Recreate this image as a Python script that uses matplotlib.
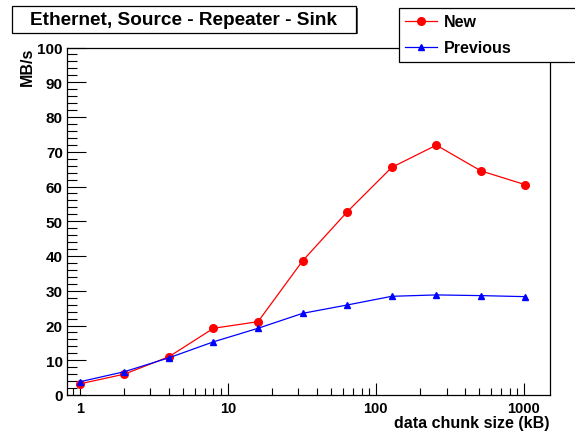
import matplotlib
matplotlib.use("Agg")
import matplotlib.pyplot as plt
from matplotlib.patches import Rectangle
from matplotlib.ticker import FixedLocator, NullFormatter, MultipleLocator, LogLocator

plt.rcParams['font.family'] = ['Liberation Sans', 'DejaVu Sans']
plt.rcParams['font.weight'] = 'bold'

# chunk sizes (kB) and throughput (MB/s)
chunk_kb = [1, 2, 4, 8, 16, 32, 64, 128, 256, 512, 1024]
new_mbs = [3.2, 6.0, 11.0, 19.2, 21.1, 38.6, 52.7, 65.5, 71.9, 64.5, 60.5]
prev_mbs = [3.8, 6.7, 10.7, 15.3, 19.2, 23.5, 25.9, 28.4, 28.8, 28.6, 28.3]

x_ticks = [1, 10, 100, 1000]
x_ticklabels = ['1', '10', '100', '1000']

title = "Ethernet, Source - Repeater - Sink"
W, H = 575, 435

fig = plt.figure(figsize=(5.75, 4.35), dpi=100)
ax = fig.add_axes([67 / W, 39 / H, 483 / W, 347.5 / H])

ax.plot(chunk_kb, new_mbs, color='red', lw=0.9, marker='o', ms=5.5,
        mec='red', mfc='red', label='New')
ax.plot(chunk_kb, prev_mbs, color='blue', lw=0.9, marker='^', ms=5,
        mec='blue', mfc='blue', label='Previous')

ax.set_xscale('log')
ax.set_xlim(0.82, 1500)
ax.set_ylim(0, 100)

ax.xaxis.set_major_locator(FixedLocator(x_ticks))
ax.set_xticklabels(x_ticklabels)
ax.xaxis.set_minor_locator(LogLocator(base=10, subs=range(2, 10)))
ax.xaxis.set_minor_formatter(NullFormatter())
ax.yaxis.set_major_locator(MultipleLocator(10))
ax.yaxis.set_minor_locator(MultipleLocator(2))

ax.tick_params(which='both', direction='in', top=False, right=False, width=0.8)
ax.tick_params(axis='y', which='major', length=14, pad=3, labelsize=11)
ax.tick_params(axis='y', which='minor', length=7)
ax.tick_params(axis='x', which='major', length=9, pad=4.5, labelsize=10.5)
ax.tick_params(axis='x', which='minor', length=5)
for lab in ax.get_xticklabels() + ax.get_yticklabels():
    lab.set_fontweight('bold')
for s in ax.spines.values():
    s.set_linewidth(0.9)

fig.text(27.5 / W, 1 - 48 / H, 'MB/s', rotation=90, ha='center', va='top',
         fontsize=11.5, fontweight='bold')
fig.text(550 / W, 1 - 423.5 / H, 'data chunk size (kB)', ha='right',
         va='center', fontsize=11.5, fontweight='bold')

# title box with shadow
fig.patches.append(Rectangle((13.5 / W, 1 - 35 / H), 344 / W, 26.5 / H,
                             transform=fig.transFigure, facecolor='#555555',
                             edgecolor='none', zorder=5))
fig.patches.append(Rectangle((12 / W, 1 - 33.5 / H), 344 / W, 26.5 / H,
                             transform=fig.transFigure, facecolor='white',
                             edgecolor='black', lw=0.9, zorder=6))
fig.text(183 / W, 1 - 20.5 / H, title, ha='center', va='center',
         fontsize=13.7, fontweight='bold', zorder=7)

leg = fig.legend(loc='upper left',
                 bbox_to_anchor=(399 / W, 1 - 9.3 / H, 180 / W, 0.001),
                 mode='expand', borderaxespad=0, fontsize=11.5,
                 frameon=True, fancybox=False, framealpha=1,
                 edgecolor='black', handlelength=1.95, handletextpad=0.45,
                 labelspacing=0.7, borderpad=0.4)
leg.get_frame().set_linewidth(0.9)
for t in leg.get_texts():
    t.set_fontweight('bold')

fig.savefig('out.png', dpi=100)
